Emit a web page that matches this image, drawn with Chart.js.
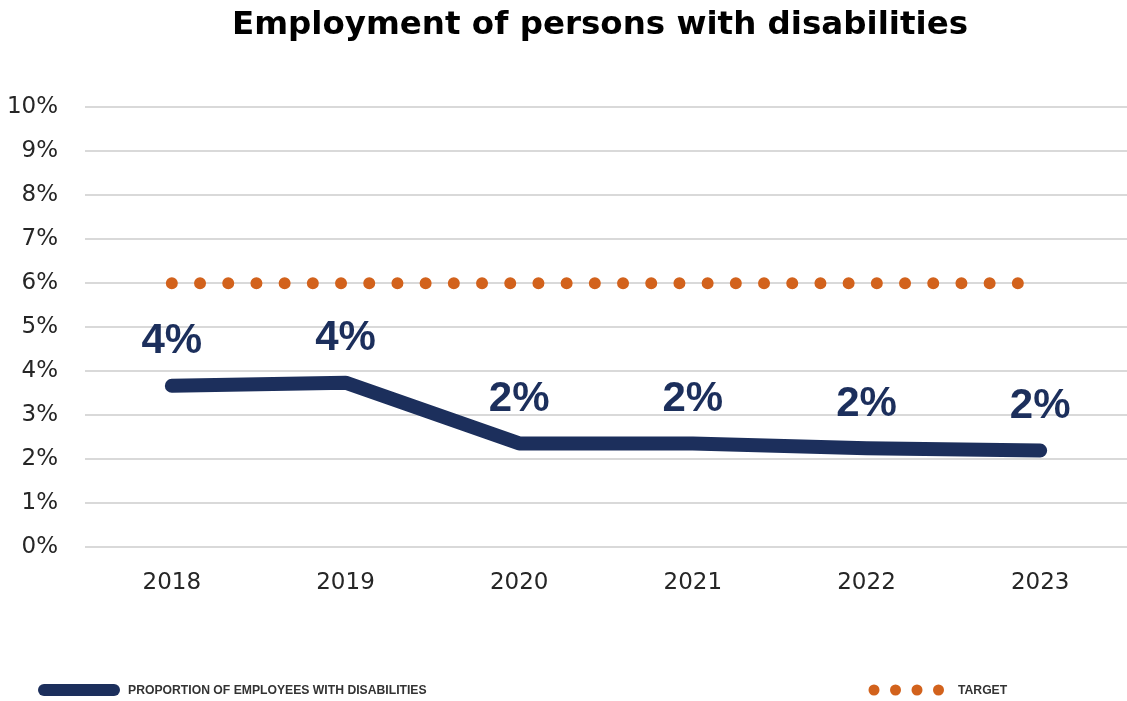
<!DOCTYPE html>
<html>
<head>
<meta charset="utf-8">
<title>Employment of persons with disabilities</title>
<script src="https://cdn.jsdelivr.net/npm/chart.js@4"></script>
<style>
    html, body { margin: 0; padding: 0; background: #fff; }
    #wrap { width: 1127px; height: 701px; }
</style>
</head>
<body>
<div id="wrap"><canvas id="empChart" width="1127" height="701"></canvas></div>
<script>
const years = ['2018', '2019', '2020', '2021', '2022', '2023'];
const proportion = [3.67, 3.74, 2.36, 2.36, 2.25, 2.2];
const target = [6, 6, 6, 6, 6, 6];
const yTicks = [0, 1, 2, 3, 4, 5, 6, 7, 8, 9, 10];
const titleText = 'Employment of persons with disabilities';

const navy = '#1c2f5c';
const orange = '#d2621c';

// labels above each point of the main line
const pointLabels = {
    id: 'pointLabels',
    afterDatasetsDraw(chart) {
        const ctx = chart.ctx;
        const meta = chart.getDatasetMeta(0);
        ctx.save();
        ctx.font = 'bold 42px "Liberation Sans", sans-serif';
        ctx.fillStyle = navy;
        ctx.textAlign = 'center';
        ctx.textBaseline = 'middle';
        meta.data.forEach((pt, i) => {
            ctx.fillText(Math.round(proportion[i]) + '%', pt.x, pt.y - 44);
        });
        ctx.restore();
    }
};

// title (sits a bit right of centre in the original) and legend, drawn by hand
const titleAndLegend = {
    id: 'titleAndLegend',
    afterDraw(chart) {
        const ctx = chart.ctx;
        ctx.save();
        ctx.font = 'bold 32.5px "DejaVu Sans", sans-serif';
        ctx.fillStyle = '#000';
        ctx.textAlign = 'center';
        ctx.textBaseline = 'middle';
        ctx.fillText(titleText, 600, 26);

        const y = 690;
        ctx.textAlign = 'left';
        ctx.strokeStyle = navy;
        ctx.lineWidth = 12;
        ctx.lineCap = 'round';
        ctx.beginPath();
        ctx.moveTo(44, y);
        ctx.lineTo(114, y);
        ctx.stroke();

        ctx.font = 'bold 12.2px "Liberation Sans", sans-serif';
        ctx.fillStyle = '#333';
        ctx.fillText('PROPORTION OF EMPLOYEES WITH DISABILITIES', 128, y + 1);

        ctx.fillStyle = orange;
        [874, 895.5, 917, 938.5].forEach(x => {
            ctx.beginPath();
            ctx.arc(x, y, 5.5, 0, Math.PI * 2);
            ctx.fill();
        });
        ctx.fillStyle = '#333';
        ctx.fillText('TARGET', 958, y + 1);
        ctx.restore();
    }
};

const ctx = document.getElementById('empChart').getContext('2d');
const empChart = new Chart(ctx, {
    type: 'line',
    data: {
        labels: years,
        datasets: [
            {
                label: 'Proportion of employees with disabilities',
                data: proportion,
                borderColor: navy,
                borderWidth: 14,
                borderCapStyle: 'round',
                borderJoinStyle: 'round',
                pointRadius: 0,
                tension: 0,
                fill: false,
            },
            {
                label: 'Target',
                data: target,
                borderColor: orange,
                borderWidth: 12,
                borderCapStyle: 'round',
                borderDash: [0, 28.2],
                pointRadius: 0,
                fill: false,
            },
        ],
    },
    options: {
        responsive: false,
        animation: false,
        layout: {
            padding: { left: 8, right: 0, top: 107, bottom: 82 },
        },
        plugins: {
            legend: { display: false },
            tooltip: { enabled: false },
            title: { display: false },
        },
        scales: {
            x: {
                offset: true,
                grid: { display: false, drawTicks: false },
                border: { display: false },
                ticks: {
                    color: '#262626',
                    padding: 22,
                    font: { family: '"DejaVu Sans", sans-serif', size: 23 },
                },
            },
            y: {
                min: 0,
                max: 10,
                afterBuildTicks: axis => {
                    axis.ticks = yTicks.map(v => ({ value: v }));
                },
                afterFit: axis => {
                    axis.width = 77;
                },
                grid: { color: '#d9d9d9', lineWidth: 2, drawTicks: false },
                border: { display: false },
                ticks: {
                    color: '#262626',
                    padding: 27,
                    font: { family: '"DejaVu Sans", sans-serif', size: 23 },
                    callback: v => v + '%',
                },
            },
        },
    },
    plugins: [pointLabels, titleAndLegend],
});
</script>
</body>
</html>
